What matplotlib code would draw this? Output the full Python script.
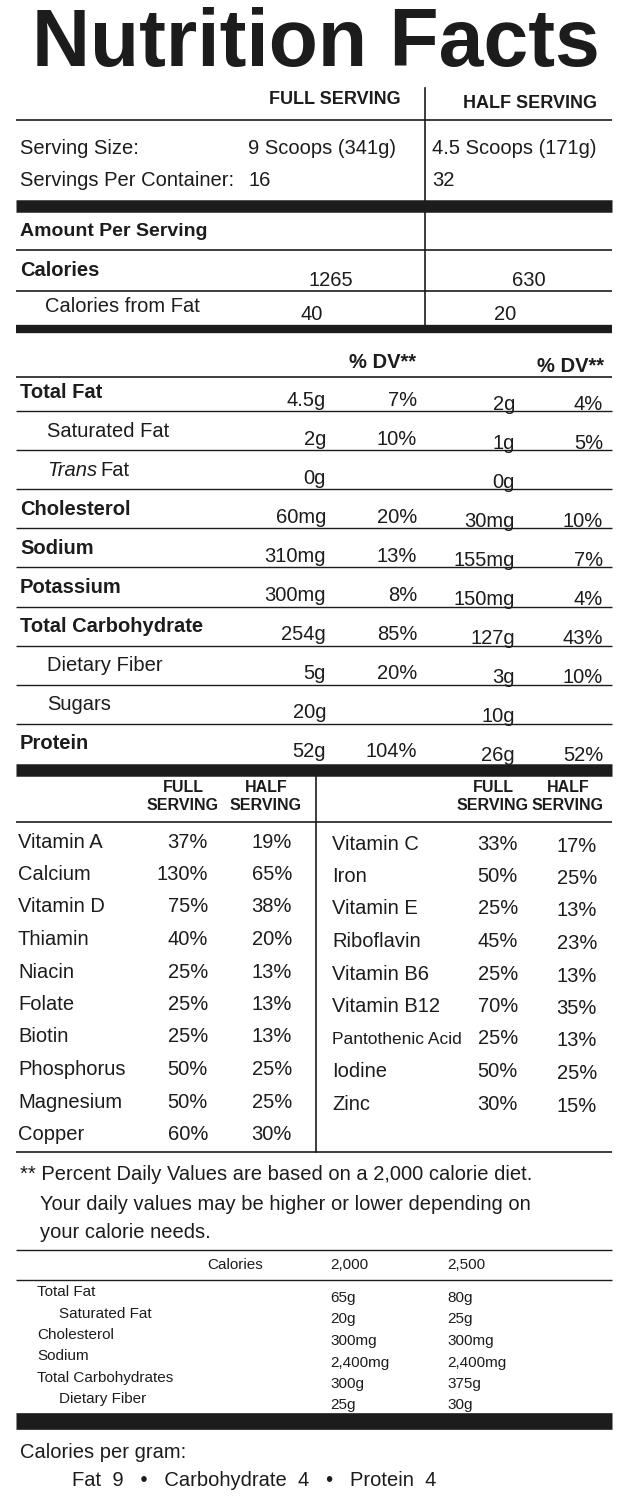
import matplotlib
matplotlib.use("Agg")
import matplotlib.pyplot as plt

title = "Nutrition Facts"
serving_labels = ["Serving Size:", "Servings Per Container:"]
serving_full = ["9 Scoops (341g)", "16"]
serving_half = ["4.5 Scoops (171g)", "32"]
calories = [1265, 630]
cal_fat = [40, 20]
nutrients = ["Total Fat", "Saturated Fat", "Trans Fat", "Cholesterol", "Sodium", "Potassium",
             "Total Carbohydrate", "Dietary Fiber", "Sugars", "Protein"]
nutrient_indent = [0, 1, 1, 0, 0, 0, 0, 1, 1, 0]
full_amt = ["4.5g", "2g", "0g", "60mg", "310mg", "300mg", "254g", "5g", "20g", "52g"]
full_dv = ["7%", "10%", "", "20%", "13%", "8%", "85%", "20%", "", "104%"]
half_amt = ["2g", "1g", "0g", "30mg", "155mg", "150mg", "127g", "3g", "10g", "26g"]
half_dv = ["4%", "5%", "", "10%", "7%", "4%", "43%", "10%", "", "52%"]
vit_left = ["Vitamin A", "Calcium", "Vitamin D", "Thiamin", "Niacin", "Folate", "Biotin",
            "Phosphorus", "Magnesium", "Copper"]
vit_left_full = ["37%", "130%", "75%", "40%", "25%", "25%", "25%", "50%", "50%", "60%"]
vit_left_half = ["19%", "65%", "38%", "20%", "13%", "13%", "13%", "25%", "25%", "30%"]
vit_right = ["Vitamin C", "Iron", "Vitamin E", "Riboflavin", "Vitamin B6", "Vitamin B12",
             "Pantothenic Acid", "Iodine", "Zinc"]
vit_right_full = ["33%", "50%", "25%", "45%", "25%", "70%", "25%", "50%", "30%"]
vit_right_half = ["17%", "25%", "13%", "23%", "13%", "35%", "13%", "25%", "15%"]
foot = ["** Percent Daily Values are based on a 2,000 calorie diet.",
        "Your daily values may be higher or lower depending on",
        "your calorie needs."]
ref_names = ["Total Fat", "Saturated Fat", "Cholesterol", "Sodium", "Total Carbohydrates", "Dietary Fiber"]
ref_indent = [0, 1, 0, 0, 0, 1]
ref_2000 = ["65g", "20g", "300mg", "2,400mg", "300g", "25g"]
ref_2500 = ["80g", "25g", "300mg", "2,400mg", "375g", "30g"]

plt.rcParams['font.family'] = ['Liberation Sans', 'DejaVu Sans']
fig = plt.figure(figsize=(6.27, 15), dpi=100)
ax = fig.add_axes([0, 0, 1, 1])
ax.set_xlim(0, 627); ax.set_ylim(1500, 0); ax.axis('off')
C = '#1c1c1c'
L, R = 16, 612

def hl(y, lw):
    ax.plot([L, R], [y, y], color=C, lw=lw, solid_capstyle='butt')
def vl(x, y0, y1, lw=1.2):
    ax.plot([x, x], [y0, y1], color=C, lw=lw)
def t(x, y, s, ha='left', fs=14.5, w='normal', **kw):
    ax.text(x, y, s, ha=ha, va='center', fontsize=fs, fontweight=w, color=C, **kw)

t(316, 45, title, ha='center', fs=58, w='heavy')
t(335, 100, "FULL SERVING", ha='center', fs=13, w='bold')
t(530, 103, "HALF SERVING", ha='center', fs=13, w='bold')
vl(425, 88, 205)
hl(120, 1.2)
for i, y in enumerate([148, 180]):
    t(20, y, serving_labels[i])
    t(248, y, serving_full[i])
    t(432, y, serving_half[i])
hl(206, 9)
vl(425, 210, 330)
t(20, 232, "Amount Per Serving", w='bold', fs=14)
hl(250, 1.2)
t(20, 270, "Calories", w='bold'); t(353, 280, str(calories[0]), ha='right'); t(546, 280, str(calories[1]), ha='right')
hl(291, 1.2)
t(45, 306, "Calories from Fat"); t(323, 314, str(cal_fat[0]), ha='right'); t(516, 314, str(cal_fat[1]), ha='right')
hl(329, 6)
t(416, 362, "% DV**", ha='right', w='bold'); t(604, 366, "% DV**", ha='right', w='bold')
hl(377, 1.2)
y0, dy = 392, 39.1
for i, n in enumerate(nutrients):
    y = y0 + i * dy
    ind = 27 if nutrient_indent[i] else 0
    bold = 'bold' if not nutrient_indent[i] else 'normal'
    if n == "Trans Fat":
        ax.text(47, y, "Trans", ha='left', va='center', fontsize=14.5, style='italic', color=C)
        t(100, y, "Fat")
    else:
        t(20 + ind, y, n, w=bold)
    t(326, y + 8, full_amt[i], ha='right')
    t(417, y + 8, full_dv[i], ha='right')
    t(515, y + 12, half_amt[i], ha='right')
    t(603, y + 12, half_dv[i], ha='right')
    if i < len(nutrients) - 1:
        hl(y + 19, 1.0)
hl(770, 9)
vl(316, 775, 1152)
for x, lab in [(183, "FULL"), (266, "HALF"), (493, "FULL"), (568, "HALF")]:
    t(x, 787, lab, ha='center', fs=11.5, w='bold')
for x, lab in [(183, "SERVING"), (266, "SERVING"), (493, "SERVING"), (568, "SERVING")]:
    t(x, 806, lab, ha='center', fs=11.5, w='bold')
hl(822, 1.2)
vy0, vdy = 842, 32.5
for i, n in enumerate(vit_left):
    y = vy0 + i * vdy
    t(18, y, n); t(208, y, vit_left_full[i], ha='right'); t(292, y, vit_left_half[i], ha='right')
for i, n in enumerate(vit_right):
    y = vy0 + i * vdy
    t(332, y + 2, n, fs=(12.5 if len(n) > 12 else 14.5))
    t(518, y + 2, vit_right_full[i], ha='right'); t(597, y + 4, vit_right_half[i], ha='right')
hl(1152, 1.2)
t(20, 1175, foot[0]); t(40, 1204, foot[1]); t(40, 1233, foot[2])
hl(1250, 1.0)
t(207, 1265, "Calories", fs=11); t(330, 1265, "2,000", fs=11); t(447, 1265, "2,500", fs=11)
hl(1280, 1.0)
for i, n in enumerate(ref_names):
    y = 1292 + i * 21.5
    t(37 + (22 if ref_indent[i] else 0), y, n, fs=11)
    t(330, y + 6, ref_2000[i], fs=11)
    t(447, y + 6, ref_2500[i], fs=11)
hl(1421, 12)
t(20, 1452, "Calories per gram:")
t(72, 1481, "Fat  9   \u2022   Carbohydrate  4   \u2022   Protein  4")
fig.savefig("out.png", dpi=100, facecolor='white')
